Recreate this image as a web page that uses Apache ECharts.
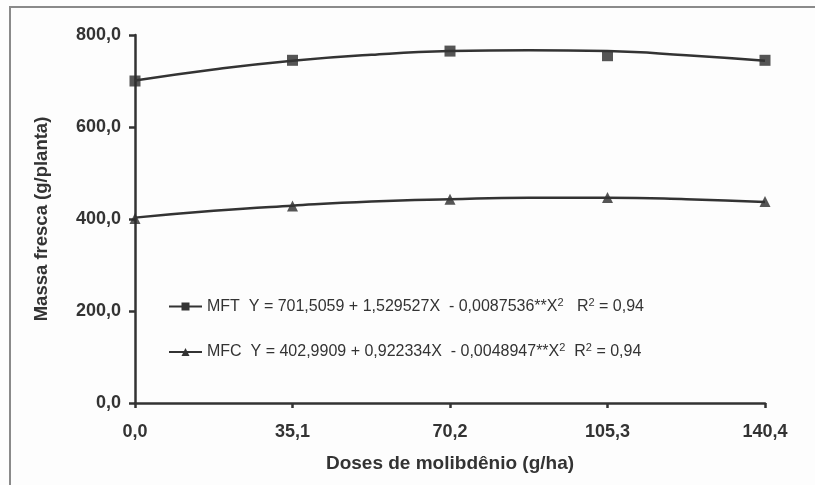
<!DOCTYPE html>
<html>
<head>
<meta charset="utf-8">
<script src="https://cdn.jsdelivr.net/npm/echarts@6/dist/echarts.min.js"></script>
<style>
  html, body { margin: 0; padding: 0; background: #fdfdfd; }
  #chart { width: 815px; height: 485px; }
</style>
</head>
<body>
<div id="chart"></div>
<script>
// doses (g/ha)
const doses = [0, 35.1, 70.2, 105.3, 140.4]
const mftObs = [700, 745, 765, 755, 745]
const mfcObs = [401, 428, 443, 447, 438]

// fitted curves
const curveX = [0, 17.55, 35.1, 52.65, 70.2, 87.75, 105.3, 122.85, 140.4]
const mftCurve = [701, 725, 744, 757, 765, 767, 765, 756, 744]
const mfcCurve = [403, 418, 429, 438, 443, 446, 446, 443, 437]

const yTicks = [0, 200, 400, 600, 800]

const eqText = {
  MFT: '{n|MFT}  Y = 701,5059 + 1,529527X  - 0,0087536**X{s|2}   R{s|2} = 0,94',
  MFC: '{n|MFC}  Y = 402,9909 + 0,922334X  - 0,0048947**X{s|2}  R{s|2} = 0,94'
}

const pair = (xs, ys) => xs.map((x, i) => [x, ys[i]])
const fmt = v => v.toFixed(1).replace('.', ',')
const ink = '#333'

const chart = echarts.init(document.getElementById('chart'))
chart.setOption({
  backgroundColor: '#fdfdfd',
  animation: false,
  graphic: [{
    type: 'rect',
    shape: { x: 10, y: 7, width: 900, height: 600 },
    style: { fill: 'none', stroke: '#8a8a8a', lineWidth: 2 }
  }],
  grid: { left: 135, right: 50, top: 35, bottom: 82 },
  legend: {
    data: ['MFT', 'MFC'],
    orient: 'vertical',
    left: 163,
    top: 292,
    itemGap: 28,
    itemWidth: 33,
    itemHeight: 10,
    selectedMode: false,
    formatter: name => eqText[name],
    textStyle: {
      color: ink,
      fontFamily: 'Liberation Sans',
      fontSize: 16,
      rich: {
        n: { fontSize: 16, color: ink, fontFamily: 'Liberation Sans' },
        s: { fontSize: 11, color: ink, fontFamily: 'Liberation Sans', verticalAlign: 'top', padding: [0, 0, 8, 0] }
      }
    }
  },
  xAxis: {
    type: 'value',
    min: 0,
    max: 140.4,
    interval: 35.1,
    name: 'Doses de molibdênio (g/ha)',
    nameLocation: 'middle',
    nameGap: 51,
    nameTextStyle: { color: ink, fontWeight: 'bold', fontSize: 19, fontFamily: 'Liberation Sans' },
    splitLine: { show: false },
    axisLine: { lineStyle: { color: ink, width: 2.5 } },
    axisTick: { lineStyle: { color: ink, width: 2.5 }, length: 5 },
    axisLabel: { formatter: fmt, color: ink, fontWeight: 'bold', fontSize: 18, fontFamily: 'Liberation Sans', margin: 20 }
  },
  yAxis: {
    type: 'value',
    min: yTicks[0],
    max: yTicks[yTicks.length - 1],
    interval: 200,
    name: 'Massa fresca (g/planta)',
    nameLocation: 'middle',
    nameGap: 84,
    nameTextStyle: { color: ink, fontWeight: 'bold', fontSize: 18.5, fontFamily: 'Liberation Sans' },
    splitLine: { show: false },
    axisLine: { show: true, lineStyle: { color: ink, width: 2.5 } },
    axisTick: { show: true, lineStyle: { color: ink, width: 2.5 }, length: 6 },
    axisLabel: { formatter: fmt, color: ink, fontWeight: 'bold', fontSize: 18, fontFamily: 'Liberation Sans', margin: 14 }
  },
  series: [
    {
      name: 'MFT',
      type: 'line',
      smooth: true,
      data: pair(curveX, mftCurve),
      symbol: 'rect',
      symbolSize: 8,
      showSymbol: false,
      lineStyle: { color: ink, width: 2.5 },
      itemStyle: { color: ink }
    },
    {
      name: 'MFC',
      type: 'line',
      smooth: true,
      data: pair(curveX, mfcCurve),
      symbol: 'triangle',
      symbolSize: 9,
      showSymbol: false,
      lineStyle: { color: ink, width: 2.5 },
      itemStyle: { color: ink }
    },
    {
      name: 'MFT obs',
      type: 'scatter',
      data: pair(doses, mftObs),
      symbol: 'rect',
      symbolSize: 11,
      itemStyle: { color: '#2a2a2a' }
    },
    {
      name: 'MFC obs',
      type: 'scatter',
      data: pair(doses, mfcObs),
      symbol: 'triangle',
      symbolSize: 11,
      itemStyle: { color: '#2a2a2a' }
    }
  ]
})
</script>
</body>
</html>
